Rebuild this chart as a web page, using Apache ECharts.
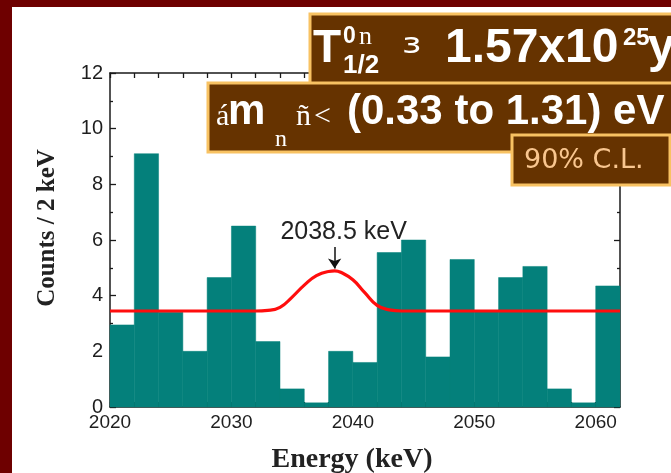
<!DOCTYPE html>
<html><head><meta charset="utf-8">
<script src="https://cdn.jsdelivr.net/npm/echarts@6/dist/echarts.min.js"></script>
<style>html,body{margin:0;padding:0;background:#6e0000}#c{width:671px;height:473px}</style>
</head><body><div id="c"></div>
<script>
// ---- data ----
const binStarts = [2020,2022,2024,2026,2028,2030,2032,2034,2036,2038,2040,2042,2044,2046,2048,2050,2052,2054,2056,2058,2060];
const binWidth = 2;
const counts = [2.95,9.1,3.4,2.0,4.65,6.5,2.35,0.65,0.15,2.0,1.6,5.55,6.0,1.8,5.3,3.45,4.65,5.05,0.65,0.15,4.35];
const fitEnergy = [2020,2032,2033,2034,2035,2036,2037,2038,2038.5,2039,2040,2041,2042,2043,2044,2062];
const fitCounts = [3.45,3.45,3.47,3.58,3.95,4.38,4.72,4.87,4.89,4.84,4.57,4.1,3.65,3.49,3.45,3.45];
const peakEnergy = 2038.5;
const peakLabel = '2038.5 keV';
const xTitle = 'Energy (keV)';
const yTitle = 'Counts / 2 keV';

const teal = '#04807b';
const red = '#ff0d0d';
const axisColor = '#1a1a1a';
const tickFont = "'Liberation Sans', Arial, sans-serif";
const serif = "'Liberation Serif', 'Times New Roman', serif";
const boxFill = '#663300';
const boxStroke = '#f8c262';

const chart = echarts.init(document.getElementById('c'), null, {renderer:'canvas'});

function xAxisDef(pos, labels){
  return {
    type:'value', min:2020, max:2062, interval:2, position:pos,
    axisLine:{show:true, onZero:false, lineStyle:{color:axisColor, width:1.5}},
    axisTick:{show:true, inside:true, length:5, lineStyle:{color:axisColor, width:1.3}},
    splitLine:{show:false},
    axisLabel:{show:labels, showMaxLabel:false, color:'#1e1e1e', fontFamily:tickFont, fontSize:19, margin:6,
      formatter:v => (v % 10 === 0 ? String(v) : '')},
    name: labels ? xTitle : '', nameLocation:'middle', nameGap:39,
    nameTextStyle:{fontFamily:serif, fontWeight:'bold', fontSize:28, color:'#222', padding:[0,26,0,0]}
  };
}
function yAxisDef(pos, labels){
  return {
    type:'value', min:0, max:12, interval:2, position:pos,
    axisLine:{show:true, onZero:false, lineStyle:{color:axisColor, width:1.5}},
    axisTick:{show:true, inside:true, length:6, lineStyle:{color:axisColor, width:1.3}},
    minorTick:{show:true, splitNumber:2, length:3, lineStyle:{color:axisColor, width:1.3}},
    splitLine:{show:false},
    axisLabel:{show:labels, color:'#1e1e1e', fontFamily:tickFont, fontSize:20, margin:7},
    name: labels ? yTitle : '', nameLocation:'middle', nameGap:50, nameRotate:90,
    nameTextStyle:{fontFamily:serif, fontWeight:'bold', fontSize:25, color:'#222', padding:[0,0,0,24]}
  };
}

const barData = binStarts.map((s,i)=>[s, s+binWidth, counts[i]]);
const fitData = fitEnergy.map((e,i)=>[e, fitCounts[i]]);

function txt(text, x, y, size, opts){
  opts = opts || {};
  const el = {type:'text', x:x, y:y, z:opts.z || 110, silent:true,
    style:{text:text, fontSize:size, fontFamily:opts.family || "'Liberation Sans', Arial, sans-serif",
      fontWeight:opts.weight || 'bold', fill:opts.fill || '#ffffff', align:'left', verticalAlign:'middle'}};
  if (opts.scaleX) el.scaleX = opts.scaleX;
  return el;
}

const option = {
  animation:false,
  backgroundColor:'#6e0000',
  grid:{left:110, right:51, top:73, bottom:66, containLabel:false, outerBoundsMode:'none'},
  xAxis:[xAxisDef('bottom', true), xAxisDef('top', false)],
  yAxis:[yAxisDef('left', true), yAxisDef('right', false)],
  series:[
    {
      type:'custom', xAxisIndex:0, yAxisIndex:0, data:barData, encode:{x:[0,1], y:2}, z:2,
      renderItem:function(params, api){
        const p0 = api.coord([api.value(0), api.value(2)]);
        const p1 = api.coord([api.value(1), 0]);
        return {type:'rect', shape:{x:p0[0], y:p0[1], width:p1[0]-p0[0], height:p1[1]-p0[1]},
          style:{fill:teal, stroke:teal, lineWidth:0.5}};
      }
    },
    {
      type:'line', xAxisIndex:0, yAxisIndex:0, data:fitData, showSymbol:false, symbol:'none', z:3,
      smooth:0.5,
      lineStyle:{color:red, width:3.2},
      markLine:{
        silent:true, symbol:['none','arrow'], symbolSize:10,
        lineStyle:{color:'#111', width:1.5, type:'solid'},
        label:{show:true, position:'start', formatter:peakLabel, fontSize:25, color:'#222',
          fontFamily:"'Liberation Sans', Arial, sans-serif", distance:2, padding:[0,0,0,18]},
        data:[[{coord:[peakEnergy, 5.75]}, {coord:[peakEnergy, 4.98]}]]
      }
    }
  ],
  graphic:[
    {type:'rect', z:-10, silent:true, shape:{x:12, y:7, width:670, height:470}, style:{fill:'#ffffff'}},
    // box 1
    {type:'rect', z:100, silent:true, shape:{x:310, y:14, width:380, height:72}, style:{fill:boxFill, stroke:boxStroke, lineWidth:3}},
    txt('T', 313, 49, 46),
    txt('0', 343, 37, 23),
    txt('n', 359, 37, 26, {family:serif, weight:'normal'}),
    txt('1/2', 343, 66, 26),
    txt('з', 402, 46, 28, {family:"'DejaVu Sans', sans-serif", weight:'normal', scaleX:1.3}),
    txt('1.57x10', 445, 49, 48),
    txt('25', 623, 38, 24),
    txt('y', 648, 49, 48),
    // box 2
    {type:'rect', z:101, silent:true, shape:{x:208, y:83, width:480, height:69}, style:{fill:boxFill, stroke:boxStroke, lineWidth:3}},
    txt('á', 216, 117, 30, {family:serif, weight:'normal', z:111}),
    txt('m', 228, 112, 42, {z:111}),
    txt('n', 275, 140, 24, {family:serif, weight:'normal', z:111}),
    txt('ñ', 296, 117, 30, {family:serif, weight:'normal', z:111}),
    txt('<', 314, 117, 30, {family:serif, weight:'normal', z:111}),
    txt('(0.33 to 1.31) eV', 347, 112, 42, {z:111}),
    // box 3
    {type:'rect', z:102, silent:true, shape:{x:512, y:135, width:158, height:50}, style:{fill:boxFill, stroke:boxStroke, lineWidth:3}},
    txt('90% C.L.', 524, 161, 27, {family:"'DejaVu Sans', Verdana, sans-serif", weight:'normal', fill:'#f9c68f', z:112})
  ]
};
chart.setOption(option);
</script>
</body></html>
